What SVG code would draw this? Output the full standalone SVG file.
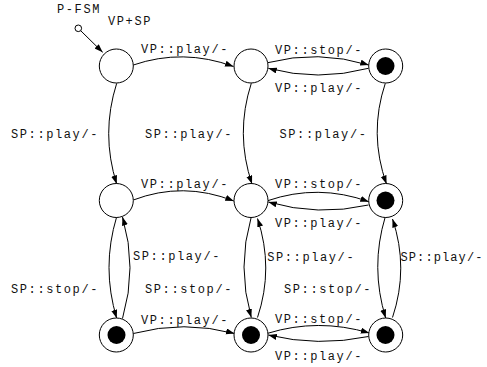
<svg xmlns="http://www.w3.org/2000/svg" width="487" height="367" viewBox="0 0 487 367">
  <style>
    .state { fill: #fff; stroke: #000; stroke-width: 1; }
    .dot { fill: #000; }
    .edge { fill: none; stroke: #000; stroke-width: 1; marker-end: url(#arrow); }
    .lbl { font-family: "Liberation Mono", "DejaVu Sans Mono", monospace; font-size: 12px; letter-spacing: 1.6px; fill: #111; }
  </style>
  <defs>
    <marker id="arrow" markerUnits="userSpaceOnUse" markerWidth="9" markerHeight="7" refX="8.5" refY="3" orient="auto">
      <path d="M0,0 L8.5,3 L0,6 z" fill="#000"/>
    </marker>
  </defs>
  <rect width="487" height="367" fill="#fff"/>

  <!-- transitions -->
  <g id="connectors">
    <!-- initial pseudo-state -->
    <circle cx="78.3" cy="28.3" r="3.3" fill="#fff" stroke="#000"/>
    <path class="edge" d="M80.8,30.8 L102.7,52.3"/>
    <!-- row 1 -->
    <path class="edge" d="M133.3,65 Q183,48 233.5,66.5"/>
    <path class="edge" d="M267.7,62.7 Q318,49.6 368.8,65"/>
    <path class="edge" d="M368.5,68.3 Q318,81.7 268.3,68.3"/>
    <!-- row 2 -->
    <path class="edge" d="M133.3,200 Q183,181 233.8,201"/>
    <path class="edge" d="M267.7,200.7 Q318,183.4 368.8,201.7"/>
    <path class="edge" d="M368.5,205 Q318,216.5 268.3,202"/>
    <!-- row 3 -->
    <path class="edge" d="M133.3,333.5 Q184,320 234.5,333.5"/>
    <path class="edge" d="M267.7,333.3 Q318,317.8 369.3,333"/>
    <path class="edge" d="M368.5,336.5 Q318,347 268.3,335"/>
    <!-- column 1 -->
    <path class="edge" d="M116.7,83.3 Q100.7,133.7 116.7,184"/>
    <path class="edge" d="M116.7,216.7 Q101.3,267.5 116.7,318.3"/>
    <path class="edge" d="M122.5,318.5 Q137.5,267.8 122.5,217"/>
    <!-- column 2 -->
    <path class="edge" d="M251.3,83.3 Q235,133.7 252,184"/>
    <path class="edge" d="M251.3,216.7 Q236.7,267 251.3,317.5"/>
    <path class="edge" d="M257.5,317.5 Q274,268 257.5,218.5"/>
    <!-- column 3 -->
    <path class="edge" d="M385.3,83.3 Q368.5,133.7 386.5,184"/>
    <path class="edge" d="M385.3,216.7 Q370,267.4 385.7,318"/>
    <path class="edge" d="M392.5,317.5 Q409,268 392.5,219"/>
  </g>

  <!-- states -->
  <g id="s11"><circle class="state" cx="116.3" cy="66" r="17"/></g>
  <g id="s12"><circle class="state" cx="251" cy="66" r="17"/></g>
  <g id="s13"><circle class="state" cx="385.7" cy="66" r="17"/><circle class="dot" cx="385.5" cy="66" r="9"/></g>
  <g id="s21"><circle class="state" cx="116.3" cy="200.5" r="17"/></g>
  <g id="s22"><circle class="state" cx="251" cy="200.5" r="17"/></g>
  <g id="s23"><circle class="state" cx="385.7" cy="200.5" r="17"/><circle class="dot" cx="385.5" cy="200.5" r="9"/></g>
  <g id="s31"><circle class="state" cx="116.3" cy="335" r="17"/><circle class="dot" cx="116.5" cy="335" r="9"/></g>
  <g id="s32"><circle class="state" cx="251" cy="335" r="17"/><circle class="dot" cx="251" cy="335" r="9"/></g>
  <g id="s33"><circle class="state" cx="385.7" cy="335" r="17"/><circle class="dot" cx="385.5" cy="335" r="9"/></g>

  <!-- labels -->
  <g id="labels">
    <text class="lbl" x="57" y="12.5">P-FSM</text>
    <text class="lbl" x="108" y="24.5">VP+SP</text>
    <text class="lbl" x="141" y="53.3">VP::play/-</text>
    <text class="lbl" x="275" y="54">VP::stop/-</text>
    <text class="lbl" x="275" y="91.7">VP::play/-</text>
    <text class="lbl" x="11" y="138.3">SP::play/-</text>
    <text class="lbl" x="145" y="138.3">SP::play/-</text>
    <text class="lbl" x="279.5" y="137.7">SP::play/-</text>
    <text class="lbl" x="141" y="188.3">VP::play/-</text>
    <text class="lbl" x="275" y="188.3">VP::stop/-</text>
    <text class="lbl" x="275" y="226.7">VP::play/-</text>
    <text class="lbl" x="133" y="260">SP::play/-</text>
    <text class="lbl" x="267.2" y="261">SP::play/-</text>
    <text class="lbl" x="400.5" y="261" style="letter-spacing:1.1px">SP::play/-</text>
    <text class="lbl" x="11" y="292.7">SP::stop/-</text>
    <text class="lbl" x="145" y="292.7">SP::stop/-</text>
    <text class="lbl" x="284" y="293.3">SP::stop/-</text>
    <text class="lbl" x="141" y="324">VP::play/-</text>
    <text class="lbl" x="275" y="322.7">VP::stop/-</text>
    <text class="lbl" x="275" y="360">VP::play/-</text>
  </g>
</svg>
